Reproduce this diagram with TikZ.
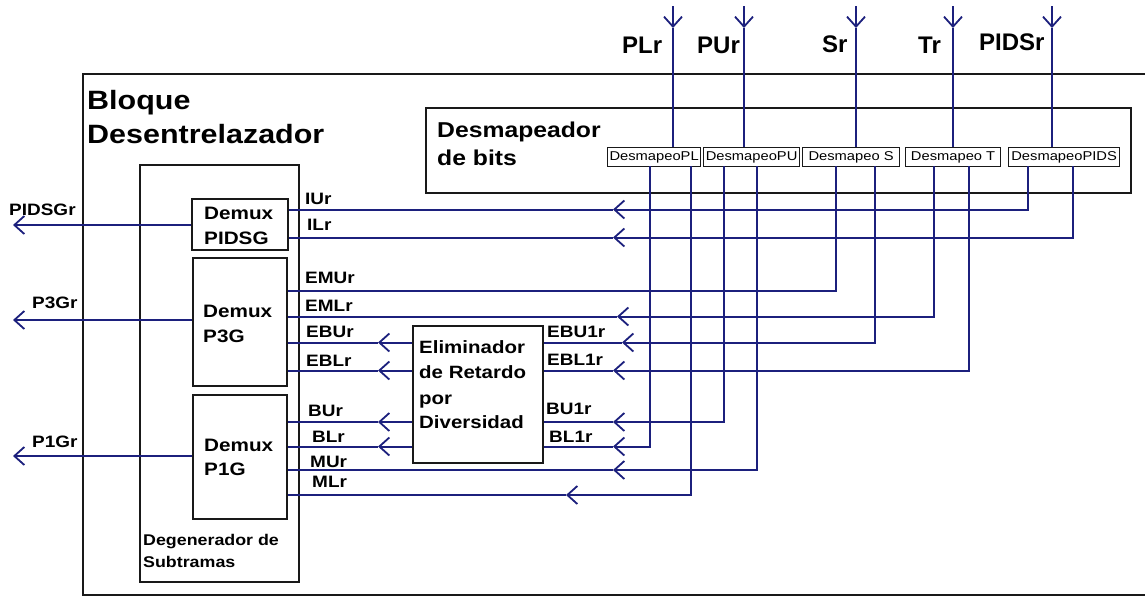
\documentclass[tikz,border=0pt]{standalone}
\usepackage{fontspec}
\setmainfont{Liberation Sans}
\newfontfamily\lab[FakeStretch=1.15]{Liberation Sans}
\usetikzlibrary{arrows.meta}
\definecolor{sigc}{RGB}{28,32,125}
\definecolor{boxc}{RGB}{25,25,25}
\tikzset{
  bx/.style={draw=boxc, line width=1.8pt, anchor=north west, inner sep=0pt},
  sbx/.style={draw=boxc, line width=1.2pt, anchor=north west, inner sep=0pt,
    font=\lab\fontsize{12.8}{12.8}\selectfont},
  sig/.style={draw=sigc, line width=2pt},
  tip/.style={-{Straight Barb[length=10pt,width=18pt,line width=1.8pt]}},
  txt/.style={anchor=base west, inner sep=0pt},
  lbl/.style={txt, font=\lab\bfseries\fontsize{16.5}{16.5}\selectfont},
  ttl/.style={txt, font=\lab\bfseries\fontsize{26.5}{26.5}\selectfont},
  dtl/.style={txt, font=\lab\bfseries\fontsize{21.5}{21.5}\selectfont},
  dmx/.style={txt, font=\lab\bfseries\fontsize{18}{18}\selectfont},
  elt/.style={txt, font=\lab\bfseries\fontsize{17.8}{17.8}\selectfont},
  dgt/.style={txt, font=\lab\bfseries\fontsize{15.5}{15.5}\selectfont},
  inl/.style={txt, font=\bfseries\fontsize{24}{24}\selectfont},
}
\begin{document}
\begin{tikzpicture}[x=1pt,y=-1pt]
\useasboundingbox[fill=white] (0,0) rectangle (1145,598);

% outer block
\draw[draw=boxc, line width=1.8pt] (1145,74) -- (83,74) -- (83,595) -- (1145,595);
\node[ttl] (tB) at (87,109) {Bloque};
\node[ttl] (tD) at (87,143) {Desentrelazador};

% desmapeador
\node[bx, minimum width=705pt, minimum height=85pt] (desmap) at (425,107) {};
\node[dtl] (tDm) at (437,137) {Desmapeador};
\node[dtl] (tDb) at (437,165) {de bits};
\node[sbx, minimum width=93pt, minimum height=19pt] (dPL) at (607,147) {DesmapeoPL};
\node[sbx, minimum width=96pt, minimum height=19pt] (dPU) at (703,147) {DesmapeoPU};
\node[sbx, minimum width=97pt, minimum height=19pt] (dS) at (802,147) {Desmapeo S};
\node[sbx, minimum width=95pt, minimum height=19pt] (dT) at (905,147) {Desmapeo T};
\node[sbx, minimum width=111pt, minimum height=19pt] (dPIDS) at (1008,147) {DesmapeoPIDS};

% degenerador
\node[bx, minimum width=159pt, minimum height=417pt] (degen) at (139,164) {};
\node[dgt] (tG1) at (143,545) {Degenerador de};
\node[dgt] (tG2) at (143,567) {Subtramas};
\node[bx, minimum width=96pt, minimum height=51pt] (dmxI) at (191,198) {};
\node[bx, minimum width=94pt, minimum height=128pt] (dmx3) at (192,257) {};
\node[bx, minimum width=94pt, minimum height=124pt] (dmx1) at (192,394) {};
\node[dmx] (tI1) at (204,219) {Demux};
\node[dmx] (tI2) at (204,244) {PIDSG};
\node[dmx] (t31) at (203,317) {Demux};
\node[dmx] (t32) at (203,342) {P3G};
\node[dmx] (t11) at (204,451) {Demux};
\node[dmx] (t12) at (204,475) {P1G};

% eliminador
\node[bx, minimum width=130pt, minimum height=137pt] (elim) at (412,325) {};
\node[elt] (tE1) at (419,353) {Eliminador};
\node[elt] (tE2) at (419,378) {de Retardo};
\node[elt] (tE3) at (419,404) {por};
\node[elt] (tE4) at (419,428) {Diversidad};

% inputs
\foreach \nm/\x/\lx/\by/\txt in {PL/673/622/53/PLr, PU/744/697/53/PUr, S/856/822/52/Sr, T/953/918/53/Tr, PIDS/1052/979/50/PIDSr}{
  \coordinate (in\nm) at (\x,6);
  \coordinate (ti\nm) at (\x,28);
  \draw[sig,tip] (in\nm) -- (ti\nm);
  \draw[sig] (ti\nm) -- (d\nm.north -| ti\nm);
  \node[inl] (l\nm) at (\lx,\by) {\txt};
}

% output taps of the desmapeo boxes
\coordinate (oPLa) at (650,166);  \coordinate (oPLb) at (691,166);
\coordinate (oPUa) at (724,166);  \coordinate (oPUb) at (757,166);
\coordinate (oSa) at (836,166);   \coordinate (oSb) at (875,166);
\coordinate (oTa) at (934,166);   \coordinate (oTb) at (969,166);
\coordinate (oPIDSa) at (1028,166); \coordinate (oPIDSb) at (1073,166);

% arrow positions
\coordinate (aIU) at (613,209.5);
\coordinate (aIL) at (613,237.5);
\coordinate (aEMU) at (700,290.5);
\coordinate (aEML) at (617,316.5);
\coordinate (aEBU1) at (622,342.5);
\coordinate (aEBL1) at (613,370.5);
\coordinate (aBU1) at (613,422);
\coordinate (aBL1) at (613,446.5);
\coordinate (aMU) at (613,470);
\coordinate (aML) at (566,495);

% straight through to demux boxes
\draw[sig,tip] (oPIDSa) |- (aIU);  \draw[sig] (aIU) -- (dmxI.east |- aIU);
\draw[sig,tip] (oPIDSb) |- (aIL);  \draw[sig] (aIL) -- (dmxI.east |- aIL);
\draw[sig] (oSa) |- (aEMU) -- (dmx3.east |- aEMU);
\draw[sig,tip] (oTa) |- (aEML);    \draw[sig] (aEML) -- (dmx3.east |- aEML);
\draw[sig,tip] (oPUb) |- (aMU);    \draw[sig] (aMU) -- (dmx1.east |- aMU);
\draw[sig,tip] (oPLb) |- (aML);    \draw[sig] (aML) -- (dmx1.east |- aML);

% into the eliminador
\draw[sig,tip] (oSb) |- (aEBU1);   \draw[sig] (aEBU1) -- (elim.east |- aEBU1);
\draw[sig,tip] (oTb) |- (aEBL1);   \draw[sig] (aEBL1) -- (elim.east |- aEBL1);
\draw[sig,tip] (oPUa) |- (aBU1);   \draw[sig] (aBU1) -- (elim.east |- aBU1);
\draw[sig,tip] (oPLa) |- (aBL1);   \draw[sig] (aBL1) -- (elim.east |- aBL1);

% out of the eliminador
\coordinate (aEBU) at (378,342.5);
\coordinate (aEBL) at (378,370.5);
\coordinate (aBU) at (378,422);
\coordinate (aBL) at (378,446.5);
\draw[sig,tip] (elim.west |- aEBU) -- (aEBU); \draw[sig] (aEBU) -- (dmx3.east |- aEBU);
\draw[sig,tip] (elim.west |- aEBL) -- (aEBL); \draw[sig] (aEBL) -- (dmx3.east |- aEBL);
\draw[sig,tip] (elim.west |- aBU) -- (aBU);   \draw[sig] (aBU) -- (dmx1.east |- aBU);
\draw[sig,tip] (elim.west |- aBL) -- (aBL);   \draw[sig] (aBL) -- (dmx1.east |- aBL);

% outputs to the left
\coordinate (xPIDSG) at (13,225);
\coordinate (xP3G) at (13,320);
\coordinate (xP1G) at (13,456);
\draw[sig,tip] (dmxI.west |- xPIDSG) -- (xPIDSG);
\draw[sig,tip] (dmx3.west |- xP3G) -- (xP3G);
\draw[sig,tip] (dmx1.west |- xP1G) -- (xP1G);
\node[lbl] (lPIDSG) at (9,215) {PIDSGr};
\node[lbl] (lP3G) at (32,308) {P3Gr};
\node[lbl] (lP1G) at (32,447) {P1Gr};

% signal labels
\node[lbl] (lIU) at (305,204) {IUr};
\node[lbl] (lIL) at (307,230) {ILr};
\node[lbl] (lEMU) at (305,283) {EMUr};
\node[lbl] (lEML) at (305,311) {EMLr};
\node[lbl] (lEBU) at (306,337) {EBUr};
\node[lbl] (lEBL) at (306,366) {EBLr};
\node[lbl] (lBU) at (308,416) {BUr};
\node[lbl] (lBL) at (312,442) {BLr};
\node[lbl] (lMU) at (310,467) {MUr};
\node[lbl] (lML) at (312,487) {MLr};
\node[lbl] (lEBU1) at (547,337) {EBU1r};
\node[lbl] (lEBL1) at (547,365) {EBL1r};
\node[lbl] (lBU1) at (546,414) {BU1r};
\node[lbl] (lBL1) at (549,442) {BL1r};
\end{tikzpicture}
\end{document}
